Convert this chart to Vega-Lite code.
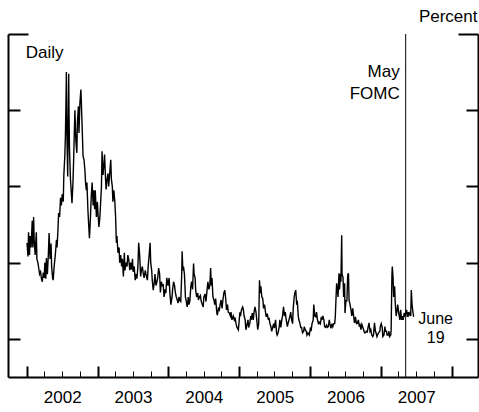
{
"$schema": "https://vega.github.io/schema/vega-lite/v6.json",
"width": 470, "height": 343,
"autosize": {"type": "none"},
"padding": {"left": 8, "top": 34, "right": 1, "bottom": 35},
"config": {"font": "Liberation Sans", "view": {"stroke": null}},
"resolve": {"axis": {"y": "independent", "x": "independent"}},
"datasets": {
"vix": [
{"d":"2002-01-02","v":22.6},{"d":"2002-01-07","v":20.8},{"d":"2002-01-10","v":24.0},{"d":"2002-01-15","v":21.0},{"d":"2002-01-18","v":23.5},{"d":"2002-01-23","v":22.0},{"d":"2002-01-29","v":25.5},{"d":"2002-02-01","v":22.0},{"d":"2002-02-05","v":26.0},{"d":"2002-02-08","v":23.0},{"d":"2002-02-13","v":21.0},{"d":"2002-02-19","v":24.0},{"d":"2002-02-22","v":20.5},{"d":"2002-02-27","v":20.0},{"d":"2002-03-04","v":19.2},{"d":"2002-03-08","v":18.5},{"d":"2002-03-13","v":18.8},{"d":"2002-03-18","v":17.8},{"d":"2002-03-22","v":17.5},{"d":"2002-03-27","v":18.7},{"d":"2002-04-01","v":18.0},{"d":"2002-04-04","v":20.0},{"d":"2002-04-09","v":17.9},{"d":"2002-04-12","v":20.6},{"d":"2002-04-17","v":18.5},{"d":"2002-04-22","v":21.0},{"d":"2002-04-26","v":23.9},{"d":"2002-05-01","v":20.5},{"d":"2002-05-06","v":22.5},{"d":"2002-05-09","v":19.5},{"d":"2002-05-14","v":18.0},{"d":"2002-05-17","v":17.7},{"d":"2002-05-22","v":19.5},{"d":"2002-05-28","v":21.0},{"d":"2002-06-03","v":23.0},{"d":"2002-06-06","v":22.0},{"d":"2002-06-11","v":24.5},{"d":"2002-06-14","v":26.5},{"d":"2002-06-19","v":26.0},{"d":"2002-06-24","v":28.5},{"d":"2002-06-28","v":27.5},{"d":"2002-07-03","v":29.0},{"d":"2002-07-08","v":28.0},{"d":"2002-07-11","v":31.5},{"d":"2002-07-16","v":34.0},{"d":"2002-07-19","v":36.5},{"d":"2002-07-22","v":41.0},{"d":"2002-07-24","v":45.0},{"d":"2002-07-26","v":38.0},{"d":"2002-07-29","v":34.0},{"d":"2002-07-31","v":31.3},{"d":"2002-08-02","v":38.0},{"d":"2002-08-05","v":44.8},{"d":"2002-08-07","v":39.0},{"d":"2002-08-09","v":35.0},{"d":"2002-08-14","v":31.0},{"d":"2002-08-19","v":29.0},{"d":"2002-08-22","v":27.8},{"d":"2002-08-27","v":30.5},{"d":"2002-08-30","v":33.0},{"d":"2002-09-04","v":38.0},{"d":"2002-09-06","v":40.0},{"d":"2002-09-11","v":36.0},{"d":"2002-09-16","v":34.4},{"d":"2002-09-19","v":38.5},{"d":"2002-09-24","v":40.5},{"d":"2002-09-27","v":37.0},{"d":"2002-10-02","v":41.0},{"d":"2002-10-07","v":42.7},{"d":"2002-10-10","v":40.5},{"d":"2002-10-15","v":36.5},{"d":"2002-10-18","v":34.0},{"d":"2002-10-23","v":33.5},{"d":"2002-10-28","v":32.0},{"d":"2002-10-31","v":30.5},{"d":"2002-11-04","v":29.5},{"d":"2002-11-07","v":30.5},{"d":"2002-11-12","v":27.0},{"d":"2002-11-15","v":25.5},{"d":"2002-11-20","v":23.2},{"d":"2002-11-25","v":25.8},{"d":"2002-11-29","v":28.5},{"d":"2002-12-04","v":30.5},{"d":"2002-12-09","v":27.5},{"d":"2002-12-12","v":29.5},{"d":"2002-12-17","v":27.0},{"d":"2002-12-20","v":29.5},{"d":"2002-12-26","v":26.0},{"d":"2002-12-31","v":28.0},
{"d":"2003-01-03","v":26.5},{"d":"2003-01-08","v":24.7},{"d":"2003-01-13","v":26.0},{"d":"2003-01-16","v":27.5},{"d":"2003-01-21","v":30.0},{"d":"2003-01-24","v":34.6},{"d":"2003-01-29","v":31.5},{"d":"2003-02-03","v":33.0},{"d":"2003-02-06","v":34.2},{"d":"2003-02-11","v":31.0},{"d":"2003-02-14","v":29.6},{"d":"2003-02-19","v":31.0},{"d":"2003-02-24","v":31.7},{"d":"2003-02-27","v":30.0},{"d":"2003-03-04","v":31.5},{"d":"2003-03-10","v":33.5},{"d":"2003-03-13","v":31.0},{"d":"2003-03-18","v":30.0},{"d":"2003-03-21","v":28.0},{"d":"2003-03-26","v":29.5},{"d":"2003-03-31","v":28.0},{"d":"2003-04-04","v":26.0},{"d":"2003-04-08","v":22.6},{"d":"2003-04-11","v":23.5},{"d":"2003-04-16","v":21.3},{"d":"2003-04-22","v":22.0},{"d":"2003-04-25","v":20.0},{"d":"2003-04-30","v":21.0},{"d":"2003-05-05","v":19.5},{"d":"2003-05-09","v":20.5},{"d":"2003-05-14","v":18.2},{"d":"2003-05-19","v":21.3},{"d":"2003-05-22","v":19.0},{"d":"2003-05-28","v":20.0},{"d":"2003-06-02","v":19.5},{"d":"2003-06-06","v":21.0},{"d":"2003-06-11","v":20.4},{"d":"2003-06-16","v":19.0},{"d":"2003-06-20","v":20.0},{"d":"2003-06-25","v":19.1},{"d":"2003-06-30","v":20.5},{"d":"2003-07-03","v":18.8},{"d":"2003-07-09","v":19.5},{"d":"2003-07-14","v":17.7},{"d":"2003-07-18","v":18.5},{"d":"2003-07-23","v":17.9},{"d":"2003-07-28","v":19.5},{"d":"2003-08-01","v":22.6},{"d":"2003-08-06","v":21.0},{"d":"2003-08-11","v":18.2},{"d":"2003-08-15","v":19.0},{"d":"2003-08-20","v":19.5},{"d":"2003-08-25","v":18.5},{"d":"2003-08-29","v":18.0},{"d":"2003-09-04","v":19.0},{"d":"2003-09-09","v":18.3},{"d":"2003-09-15","v":17.7},{"d":"2003-09-19","v":19.5},{"d":"2003-09-24","v":21.0},{"d":"2003-09-29","v":22.6},{"d":"2003-10-02","v":20.0},{"d":"2003-10-07","v":19.0},{"d":"2003-10-10","v":17.7},{"d":"2003-10-15","v":16.4},{"d":"2003-10-20","v":17.3},{"d":"2003-10-24","v":18.5},{"d":"2003-10-29","v":17.0},{"d":"2003-11-03","v":17.5},{"d":"2003-11-07","v":18.0},{"d":"2003-11-12","v":19.3},{"d":"2003-11-17","v":18.5},{"d":"2003-11-21","v":16.1},{"d":"2003-11-26","v":17.5},{"d":"2003-12-02","v":16.9},{"d":"2003-12-05","v":17.2},{"d":"2003-12-10","v":15.5},{"d":"2003-12-15","v":16.5},{"d":"2003-12-19","v":16.0},{"d":"2003-12-24","v":18.0},{"d":"2003-12-30","v":17.0},
{"d":"2004-01-05","v":18.0},{"d":"2004-01-09","v":16.0},{"d":"2004-01-14","v":14.5},{"d":"2004-01-20","v":15.5},{"d":"2004-01-23","v":16.5},{"d":"2004-01-28","v":17.5},{"d":"2004-02-02","v":17.0},{"d":"2004-02-06","v":16.1},{"d":"2004-02-11","v":15.5},{"d":"2004-02-17","v":15.0},{"d":"2004-02-20","v":14.7},{"d":"2004-02-25","v":15.5},{"d":"2004-03-01","v":15.0},{"d":"2004-03-05","v":14.9},{"d":"2004-03-10","v":18.5},{"d":"2004-03-12","v":21.5},{"d":"2004-03-16","v":19.0},{"d":"2004-03-19","v":19.5},{"d":"2004-03-24","v":18.5},{"d":"2004-03-29","v":15.5},{"d":"2004-04-02","v":15.0},{"d":"2004-04-07","v":14.2},{"d":"2004-04-13","v":15.5},{"d":"2004-04-16","v":14.5},{"d":"2004-04-21","v":15.0},{"d":"2004-04-26","v":16.9},{"d":"2004-04-30","v":17.5},{"d":"2004-05-05","v":16.5},{"d":"2004-05-10","v":19.9},{"d":"2004-05-13","v":18.5},{"d":"2004-05-18","v":18.0},{"d":"2004-05-21","v":16.4},{"d":"2004-05-26","v":15.5},{"d":"2004-06-01","v":16.0},{"d":"2004-06-04","v":15.1},{"d":"2004-06-09","v":15.5},{"d":"2004-06-14","v":15.7},{"d":"2004-06-18","v":15.0},{"d":"2004-06-24","v":14.5},{"d":"2004-06-29","v":14.2},{"d":"2004-07-02","v":15.5},{"d":"2004-07-08","v":15.9},{"d":"2004-07-13","v":14.9},{"d":"2004-07-19","v":16.5},{"d":"2004-07-23","v":17.5},{"d":"2004-07-28","v":16.5},{"d":"2004-08-02","v":17.0},{"d":"2004-08-06","v":19.3},{"d":"2004-08-10","v":17.0},{"d":"2004-08-13","v":18.0},{"d":"2004-08-18","v":15.5},{"d":"2004-08-24","v":15.0},{"d":"2004-08-27","v":14.5},{"d":"2004-09-01","v":15.3},{"d":"2004-09-07","v":13.4},{"d":"2004-09-10","v":13.1},{"d":"2004-09-15","v":14.0},{"d":"2004-09-20","v":13.8},{"d":"2004-09-24","v":14.5},{"d":"2004-09-29","v":15.1},{"d":"2004-10-04","v":14.0},{"d":"2004-10-08","v":15.0},{"d":"2004-10-13","v":16.0},{"d":"2004-10-18","v":16.4},{"d":"2004-10-22","v":15.5},{"d":"2004-10-27","v":13.8},{"d":"2004-11-01","v":14.5},{"d":"2004-11-05","v":13.5},{"d":"2004-11-10","v":13.4},{"d":"2004-11-16","v":13.0},{"d":"2004-11-19","v":13.5},{"d":"2004-11-24","v":12.5},{"d":"2004-12-01","v":13.0},{"d":"2004-12-06","v":12.5},{"d":"2004-12-10","v":12.8},{"d":"2004-12-15","v":12.0},{"d":"2004-12-20","v":11.5},{"d":"2004-12-27","v":11.2},{"d":"2004-12-30","v":12.0},
{"d":"2005-01-04","v":13.5},{"d":"2005-01-07","v":13.0},{"d":"2005-01-12","v":13.8},{"d":"2005-01-18","v":14.2},{"d":"2005-01-21","v":14.0},{"d":"2005-01-26","v":13.0},{"d":"2005-01-31","v":12.5},{"d":"2005-02-04","v":11.2},{"d":"2005-02-09","v":11.8},{"d":"2005-02-15","v":12.5},{"d":"2005-02-18","v":11.5},{"d":"2005-02-24","v":12.0},{"d":"2005-03-01","v":13.0},{"d":"2005-03-04","v":12.5},{"d":"2005-03-09","v":13.4},{"d":"2005-03-14","v":12.5},{"d":"2005-03-18","v":13.5},{"d":"2005-03-23","v":14.2},{"d":"2005-03-28","v":13.5},{"d":"2005-04-01","v":12.5},{"d":"2005-04-06","v":11.2},{"d":"2005-04-11","v":12.0},{"d":"2005-04-15","v":17.7},{"d":"2005-04-19","v":16.0},{"d":"2005-04-22","v":16.9},{"d":"2005-04-27","v":15.5},{"d":"2005-05-02","v":15.3},{"d":"2005-05-06","v":14.0},{"d":"2005-05-11","v":14.5},{"d":"2005-05-16","v":13.5},{"d":"2005-05-20","v":12.9},{"d":"2005-05-25","v":13.3},{"d":"2005-05-31","v":12.5},{"d":"2005-06-03","v":12.8},{"d":"2005-06-08","v":12.0},{"d":"2005-06-13","v":11.6},{"d":"2005-06-17","v":11.0},{"d":"2005-06-22","v":11.5},{"d":"2005-06-27","v":12.0},{"d":"2005-07-01","v":11.4},{"d":"2005-07-07","v":12.5},{"d":"2005-07-12","v":10.8},{"d":"2005-07-15","v":10.5},{"d":"2005-07-20","v":10.8},{"d":"2005-07-26","v":11.6},{"d":"2005-07-29","v":12.5},{"d":"2005-08-03","v":11.5},{"d":"2005-08-08","v":12.5},{"d":"2005-08-12","v":13.0},{"d":"2005-08-17","v":14.2},{"d":"2005-08-22","v":13.0},{"d":"2005-08-26","v":13.5},{"d":"2005-08-31","v":12.5},{"d":"2005-09-06","v":11.6},{"d":"2005-09-09","v":12.0},{"d":"2005-09-14","v":12.5},{"d":"2005-09-19","v":12.9},{"d":"2005-09-23","v":13.5},{"d":"2005-09-28","v":12.5},{"d":"2005-10-03","v":12.0},{"d":"2005-10-06","v":14.0},{"d":"2005-10-11","v":15.5},{"d":"2005-10-14","v":16.0},{"d":"2005-10-19","v":16.4},{"d":"2005-10-24","v":14.5},{"d":"2005-10-27","v":15.0},{"d":"2005-11-01","v":13.0},{"d":"2005-11-04","v":12.5},{"d":"2005-11-09","v":12.1},{"d":"2005-11-14","v":11.5},{"d":"2005-11-18","v":11.5},{"d":"2005-11-23","v":10.8},{"d":"2005-11-29","v":11.0},{"d":"2005-12-02","v":11.6},{"d":"2005-12-07","v":11.2},{"d":"2005-12-12","v":11.0},{"d":"2005-12-16","v":10.5},{"d":"2005-12-21","v":10.8},{"d":"2005-12-28","v":10.5},
{"d":"2006-01-03","v":11.5},{"d":"2006-01-06","v":11.0},{"d":"2006-01-11","v":12.0},{"d":"2006-01-17","v":12.5},{"d":"2006-01-20","v":14.5},{"d":"2006-01-25","v":13.0},{"d":"2006-01-30","v":12.9},{"d":"2006-02-03","v":13.5},{"d":"2006-02-08","v":12.5},{"d":"2006-02-14","v":11.9},{"d":"2006-02-17","v":12.2},{"d":"2006-02-23","v":12.0},{"d":"2006-02-28","v":12.9},{"d":"2006-03-03","v":12.5},{"d":"2006-03-08","v":13.0},{"d":"2006-03-13","v":12.5},{"d":"2006-03-17","v":11.6},{"d":"2006-03-22","v":11.5},{"d":"2006-03-27","v":11.8},{"d":"2006-03-31","v":11.5},{"d":"2006-04-05","v":11.6},{"d":"2006-04-10","v":12.5},{"d":"2006-04-13","v":12.0},{"d":"2006-04-19","v":11.4},{"d":"2006-04-24","v":12.0},{"d":"2006-04-28","v":11.6},{"d":"2006-05-03","v":12.0},{"d":"2006-05-08","v":12.0},{"d":"2006-05-11","v":12.9},{"d":"2006-05-15","v":15.5},{"d":"2006-05-18","v":17.3},{"d":"2006-05-22","v":16.5},{"d":"2006-05-25","v":15.5},{"d":"2006-05-30","v":18.6},{"d":"2006-06-02","v":16.5},{"d":"2006-06-07","v":18.5},{"d":"2006-06-09","v":17.5},{"d":"2006-06-13","v":23.6},{"d":"2006-06-15","v":18.5},{"d":"2006-06-20","v":18.0},{"d":"2006-06-23","v":15.5},{"d":"2006-06-28","v":17.3},{"d":"2006-06-30","v":13.4},{"d":"2006-07-05","v":15.0},{"d":"2006-07-10","v":15.0},{"d":"2006-07-14","v":18.4},{"d":"2006-07-18","v":18.6},{"d":"2006-07-21","v":15.1},{"d":"2006-07-26","v":14.5},{"d":"2006-07-31","v":13.8},{"d":"2006-08-04","v":13.0},{"d":"2006-08-09","v":14.0},{"d":"2006-08-14","v":12.9},{"d":"2006-08-18","v":12.1},{"d":"2006-08-23","v":12.9},{"d":"2006-08-28","v":12.0},{"d":"2006-09-01","v":12.0},{"d":"2006-09-07","v":12.5},{"d":"2006-09-12","v":11.6},{"d":"2006-09-15","v":12.0},{"d":"2006-09-20","v":11.2},{"d":"2006-09-25","v":11.9},{"d":"2006-09-29","v":11.6},{"d":"2006-10-04","v":11.2},{"d":"2006-10-09","v":10.8},{"d":"2006-10-13","v":10.8},{"d":"2006-10-18","v":11.0},{"d":"2006-10-23","v":10.9},{"d":"2006-10-27","v":11.5},{"d":"2006-11-01","v":12.1},{"d":"2006-11-06","v":11.0},{"d":"2006-11-10","v":11.2},{"d":"2006-11-15","v":10.5},{"d":"2006-11-20","v":10.3},{"d":"2006-11-24","v":10.5},{"d":"2006-11-29","v":12.1},{"d":"2006-12-04","v":11.0},{"d":"2006-12-07","v":10.8},{"d":"2006-12-12","v":10.3},{"d":"2006-12-15","v":10.5},{"d":"2006-12-20","v":10.8},{"d":"2006-12-27","v":11.0},{"d":"2006-12-29","v":11.6},
{"d":"2007-01-03","v":12.0},{"d":"2007-01-08","v":11.5},{"d":"2007-01-11","v":10.3},{"d":"2007-01-17","v":10.5},{"d":"2007-01-22","v":11.6},{"d":"2007-01-25","v":11.0},{"d":"2007-01-30","v":11.0},{"d":"2007-02-02","v":10.5},{"d":"2007-02-07","v":10.5},{"d":"2007-02-12","v":11.0},{"d":"2007-02-15","v":10.3},{"d":"2007-02-21","v":10.5},{"d":"2007-02-23","v":11.2},{"d":"2007-02-27","v":18.3},{"d":"2007-03-01","v":19.5},{"d":"2007-03-05","v":18.0},{"d":"2007-03-08","v":15.5},{"d":"2007-03-13","v":16.9},{"d":"2007-03-16","v":14.8},{"d":"2007-03-21","v":13.0},{"d":"2007-03-26","v":13.8},{"d":"2007-03-29","v":14.5},{"d":"2007-04-03","v":13.4},{"d":"2007-04-09","v":12.5},{"d":"2007-04-13","v":13.8},{"d":"2007-04-18","v":12.5},{"d":"2007-04-23","v":13.0},{"d":"2007-04-26","v":12.5},{"d":"2007-05-01","v":13.4},{"d":"2007-05-04","v":12.9},{"d":"2007-05-09","v":13.4},{"d":"2007-05-14","v":13.8},{"d":"2007-05-17","v":12.9},{"d":"2007-05-22","v":13.5},{"d":"2007-05-25","v":13.1},{"d":"2007-05-30","v":13.4},{"d":"2007-06-04","v":13.0},{"d":"2007-06-07","v":16.4},{"d":"2007-06-11","v":14.5},{"d":"2007-06-14","v":13.8},{"d":"2007-06-19","v":12.9}
],
"notes": [
{"label":"Daily","d":"2002-01-01","v":46.9,"kind":"daily"},
{"label":"May\nFOMC","d":"2007-05-09","v":44.4,"kind":"fomc"},
{"label":"June\n19","d":"2007-06-19","v":11.97,"kind":"june"}
]
},
"layer": [
{
"data": {"name": "vix"},
"mark": {"type": "line", "color": "black", "strokeWidth": 1.4, "interpolate": "linear"},
"encoding": {
"x": {"field": "d", "type": "temporal",
 "scale": {"type": "utc", "domain": [{"year":2001,"month":9,"date":26,"utc":true},{"year":2008,"month":5,"date":16,"utc":true}]},
 "axis": {
  "title": null, "grid": false,
  "values": [
   {"year":2002,"month":1,"date":1,"utc":true},{"year":2002,"month":4,"date":1,"utc":true},{"year":2002,"month":7,"date":1,"utc":true},{"year":2002,"month":10,"date":1,"utc":true},
   {"year":2003,"month":1,"date":1,"utc":true},{"year":2003,"month":4,"date":1,"utc":true},{"year":2003,"month":7,"date":1,"utc":true},{"year":2003,"month":10,"date":1,"utc":true},
   {"year":2004,"month":1,"date":1,"utc":true},{"year":2004,"month":4,"date":1,"utc":true},{"year":2004,"month":7,"date":1,"utc":true},{"year":2004,"month":10,"date":1,"utc":true},
   {"year":2005,"month":1,"date":1,"utc":true},{"year":2005,"month":4,"date":1,"utc":true},{"year":2005,"month":7,"date":1,"utc":true},{"year":2005,"month":10,"date":1,"utc":true},
   {"year":2006,"month":1,"date":1,"utc":true},{"year":2006,"month":4,"date":1,"utc":true},{"year":2006,"month":7,"date":1,"utc":true},{"year":2006,"month":10,"date":1,"utc":true},
   {"year":2007,"month":1,"date":1,"utc":true},{"year":2007,"month":4,"date":1,"utc":true},{"year":2007,"month":7,"date":1,"utc":true},{"year":2007,"month":10,"date":1,"utc":true},
   {"year":2008,"month":1,"date":1,"utc":true}
  ],
  "tickSize": -6, "tickWidth": 1, "tickColor": "black",
  "domainColor": "black", "domainWidth": 2,
  "format": "%Y", "formatType": "utc",
  "labelExpr": "utcmonth(datum.value) == 0 && utcyear(datum.value) < 2008 ? datum.label : ''",
  "labelOffset": 35.4, "labelPadding": 18, "labelBaseline": "top",
  "labelFontSize": 17, "labelColor": "black", "labelFont": "Liberation Sans",
  "labelOverlap": false, "labelBound": false, "labelFlush": false
 }},
"y": {"field": "v", "type": "quantitative",
 "scale": {"domain": [5, 50], "nice": false, "zero": false},
 "axis": {
  "orient": "left", "title": null, "grid": false, "labels": false,
  "values": [10, 20, 30, 40, 50],
  "tickSize": {"condition": {"test": "datum.value === 50", "value": -20}, "value": -12},
  "tickWidth": 2, "tickColor": "black",
  "domainColor": "black", "domainWidth": 2
 }}
}
},
{
"data": {"values": [{"d": "2007-05-09"}]},
"mark": {"type": "rule", "color": "black", "strokeWidth": 1},
"encoding": {
"x": {"field": "d", "type": "temporal",
 "axis": {
  "orient": "bottom", "title": null, "grid": false, "labels": false, "domain": false,
  "values": [
   {"year":2002,"month":1,"date":1,"utc":true},{"year":2003,"month":1,"date":1,"utc":true},{"year":2004,"month":1,"date":1,"utc":true},{"year":2005,"month":1,"date":1,"utc":true},{"year":2006,"month":1,"date":1,"utc":true},{"year":2007,"month":1,"date":1,"utc":true},{"year":2008,"month":1,"date":1,"utc":true}
  ],
  "tickSize": -11, "tickWidth": 2, "tickColor": "black"
 }},
"y": {"datum": 50, "type": "quantitative",
 "axis": {
  "orient": "right", "grid": false, "labels": false,
  "values": [10, 20, 30, 40, 50],
  "tickSize": {"condition": {"test": "datum.value === 50", "value": -20}, "value": -12},
  "tickWidth": 2, "tickColor": "black",
  "domainColor": "black", "domainWidth": 2,
  "title": "Percent", "titleAngle": 0, "titleAlign": "right", "titleBaseline": "alphabetic",
  "titleX": -1, "titleY": -13, "titleFontSize": 17, "titleFontWeight": "normal",
  "titleColor": "black", "titleFont": "Liberation Sans"
 }},
"y2": {"datum": 5}
}
},
{
"data": {"name": "notes"},
"transform": [{"filter": "datum.kind === 'daily'"}],
"mark": {"type": "text", "align": "left", "baseline": "alphabetic", "fontSize": 17, "color": "black", "dx": -1},
"encoding": {
"x": {"field": "d", "type": "temporal", "axis": null},
"y": {"field": "v", "type": "quantitative", "axis": null},
"text": {"field": "label"}
}
},
{
"data": {"name": "notes"},
"transform": [{"filter": "datum.kind === 'fomc'"}],
"mark": {"type": "text", "align": "right", "baseline": "alphabetic", "fontSize": 17, "color": "black", "dx": -6, "lineBreak": "\n", "lineHeight": 22},
"encoding": {
"x": {"field": "d", "type": "temporal", "axis": null},
"y": {"field": "v", "type": "quantitative", "axis": null},
"text": {"field": "label"}
}
},
{
"data": {"name": "notes"},
"transform": [{"filter": "datum.kind === 'june'"}],
"mark": {"type": "text", "align": "center", "baseline": "alphabetic", "fontSize": 16, "color": "black", "dx": 22, "lineBreak": "\n", "lineHeight": 19},
"encoding": {
"x": {"field": "d", "type": "temporal", "axis": null},
"y": {"field": "v", "type": "quantitative", "axis": null},
"text": {"field": "label"}
}
}
]
}
